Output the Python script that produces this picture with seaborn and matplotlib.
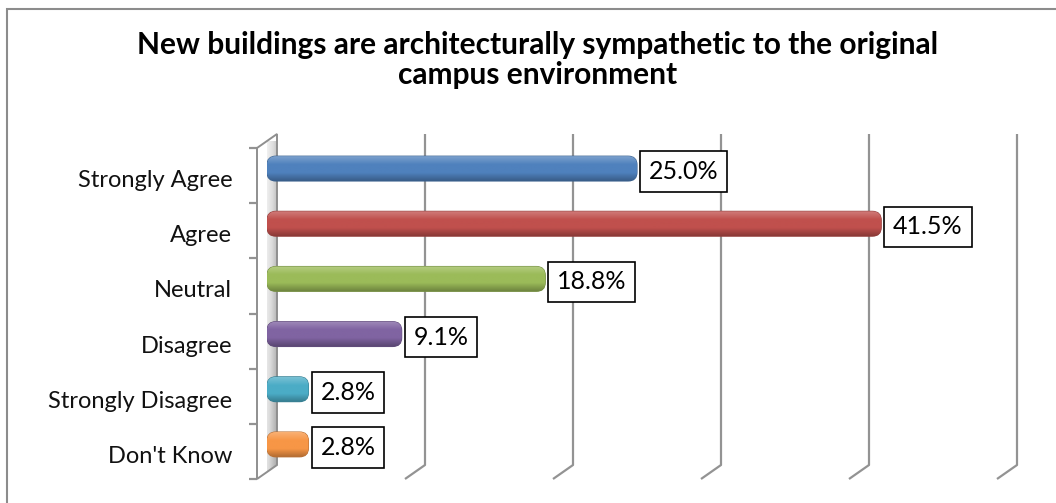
import numpy as np
import matplotlib
matplotlib.use("Agg")
import matplotlib.pyplot as plt
import matplotlib.colors as mcolors
from matplotlib.patches import FancyBboxPatch, Polygon, Rectangle
from matplotlib.transforms import ScaledTranslation
import seaborn as sns
import pandas as pd

# ---- data -------------------------------------------------------------
categories = ["Strongly Agree", "Agree", "Neutral", "Disagree",
              "Strongly Disagree", "Don't Know"]
percentages = [25.0, 41.5, 18.8, 9.1, 2.8, 2.8]
bar_colors = ["#4F81BD", "#C0504D", "#9BBB59", "#8064A2", "#4BACC6", "#F79646"]
grid_values = [10, 20, 30, 40, 50]
title_text = ("New buildings are architecturally sympathetic to the original\n"
              "campus environment")

df = pd.DataFrame({"response": categories, "pct": percentages})

# ---- figure / axes in pixel units --------------------------------------
W, H, DPI = 1056, 503, 100
sns.set_theme(style="white")
plt.rcParams["font.family"] = ["Lato", "DejaVu Sans"]

fig = plt.figure(figsize=(W / DPI, H / DPI), dpi=DPI)
fig.patch.set_facecolor("white")

# plot plane (middle depth of the 3-D box)
x0_px, px_per_pct = 267, 14.8
xmax = 50
top_px, bot_px = 141, 472
ax = fig.add_axes([x0_px / W, 1 - bot_px / H,
                   xmax * px_per_pct / W, (bot_px - top_px) / H])

sns.barplot(data=df, y="response", x="pct", hue="response",
            palette=bar_colors, orient="h", width=0.45, legend=False,
            ax=ax, zorder=5)

ax.set_xlim(0, xmax)
ax.set_ylim(len(categories) - 0.5, -0.5)
ax.set_xlabel("")
ax.set_ylabel("")
ax.set_xticks([])
for s in ax.spines.values():
    s.set_visible(False)
ax.set_facecolor("none")

# depth half-vector in data units (back = right & up)
px_per_cat = (bot_px - top_px) / len(categories)
dx = 10 / px_per_pct
dy = 7 / px_per_cat
grid_kw = dict(color="#939393", lw=1.6, clip_on=False, zorder=1,
               solid_capstyle="butt")

# back-wall gridlines with their floor edges
y_top, y_bot = -0.5, len(categories) - 0.5
for v in grid_values:
    ax.plot([v + dx, v + dx, v - dx],
            [y_top - dy, y_bot - dy, y_bot + dy], **grid_kw)

# left side wall with a soft metallic gradient
wall = Polygon([(dx, y_top - dy), (dx, y_bot - dy),
                (-dx, y_bot + dy), (-dx, y_top + dy)],
               closed=True, facecolor="none", edgecolor="#8f8f8f",
               lw=1.4, clip_on=False, zorder=2)
ax.add_patch(wall)
grad_cmap = mcolors.LinearSegmentedColormap.from_list(
    "wall", ["#bdbdbd", "#f7f7f7", "#dcdcdc", "#a9a9a9"])
gx = np.linspace(0, 1, 64)[None, :]
gy = np.linspace(0, 0.25, 64)[:, None]
img = ax.imshow(gx + gy, cmap=grad_cmap, aspect="auto",
                extent=(-dx, dx, y_bot + dy, y_top - dy),
                zorder=1.5, clip_on=True)
img.set_clip_path(wall)
ax.set_xlim(0, xmax)
ax.set_ylim(len(categories) - 0.5, -0.5)

# category tick marks on the front edge of the wall
tick_len = 8 / px_per_pct
for k in range(len(categories) + 1):
    yk = k - 0.5 + dy
    ax.plot([-dx - tick_len, -dx], [yk, yk], **grid_kw)

# category labels at the front plane
ax.set_yticks(range(len(categories)))
ax.set_yticklabels(categories, fontsize=17, color="#111111")
ax.tick_params(axis="y", length=0, pad=25)
for lab in ax.get_yticklabels():
    lab.set_transform(lab.get_transform() +
                      ScaledTranslation(0, -10 / DPI, fig.dpi_scale_trans))

# rounded, shaded bars built from the seaborn rectangles
aspect = (px_per_pct / px_per_cat)
for rect, color in zip(list(ax.patches), bar_colors):
    if not isinstance(rect, Rectangle) or rect is wall:
        continue
    x, y = rect.get_x(), rect.get_y()
    w, h = rect.get_width(), rect.get_height()
    rect.set_visible(False)
    r = 0.6
    fb = FancyBboxPatch((x, y), w, h,
                        boxstyle=f"round,pad=0,rounding_size={r}",
                        mutation_aspect=aspect,
                        facecolor=color, edgecolor=mcolors.to_hex(
                            np.array(mcolors.to_rgb(color)) * 0.75),
                        lw=0.8, zorder=6)
    ax.add_patch(fb)
    base = np.array(mcolors.to_rgb(color))
    light = base + (1 - base) * 0.25
    dark = base * 0.72
    cm = mcolors.LinearSegmentedColormap.from_list(
        "bar", [light, base, base, dark])
    gimg = ax.imshow(np.linspace(0, 1, 64)[:, None], cmap=cm, aspect="auto",
                     extent=(x, x + w, y + h, y), zorder=6.5)
    gimg.set_clip_path(fb)

    # value label in a framed box
    ax.annotate(f"{w:.1f}%", xy=(x + w, y + h / 2), xytext=(12, -3),
                textcoords="offset pixels", ha="left", va="center",
                fontsize=18, color="black", zorder=8,
                bbox=dict(boxstyle="square,pad=0.35", fc="white",
                          ec="black", lw=1.2))

ax.set_xlim(0, xmax)
ax.set_ylim(len(categories) - 0.5, -0.5)

# title
fig.text(538 / W, 1 - 60 / H, title_text, ha="center", va="center",
         fontsize=21.5, fontweight="bold", linespacing=1.08, color="black")

# chart-area frame
fig.add_artist(Rectangle((7 / W, -0.1), 1.2, 1 - 9 / H + 0.1,
                         transform=fig.transFigure, fill=False,
                         ec="#8c8c8c", lw=1.5))

fig.savefig("out.png", dpi=DPI, facecolor="white")
